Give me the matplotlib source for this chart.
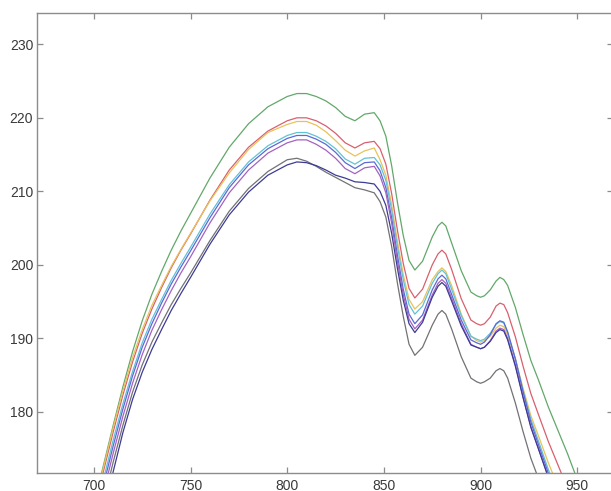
import matplotlib
matplotlib.use('Agg')
import matplotlib.pyplot as plt

plt.rcParams['font.family'] = ['Liberation Sans', 'DejaVu Sans']

# wavelength samples (nm)
wl = [700, 705, 710, 715, 720, 725, 730, 735, 740, 745, 750, 760, 770, 780, 790,
      800, 805, 810, 815, 820, 825, 830, 835, 840, 845, 848, 851, 854, 857, 860,
      863, 866, 870, 875, 878, 880, 882, 885, 890, 895, 898, 900, 902, 905, 908,
      910, 912, 914, 918, 922, 926, 930, 935, 940, 945, 950, 955]

green = [167.4, 172.8, 178.2, 183.4, 188.2, 192.4, 196.0, 199.1, 202.0, 204.6, 207.0,
         211.8, 216.0, 219.2, 221.5, 222.9, 223.3, 223.3, 222.9, 222.3, 221.4, 220.2,
         219.6, 220.5, 220.7, 219.6, 217.5, 213.5, 208.5, 204.0, 200.6, 199.3, 200.5,
         203.8, 205.3, 205.8, 205.3, 203.0, 199.2, 196.3, 195.8, 195.6, 195.8, 196.6, 197.8,
         198.3, 198.0, 197.2, 194.2, 190.5, 187.0, 184.3, 180.7, 177.5, 174.3, 170.8, 167.0]
red = [166.6, 172.0, 177.3, 182.3, 186.8, 190.7, 194.0, 196.9, 199.6, 202.0, 204.2,
       208.8, 212.9, 216.0, 218.2, 219.6, 220.0, 220.0, 219.6, 218.9, 217.9, 216.6,
       215.9, 216.6, 216.8, 215.8, 213.7, 209.7, 204.7, 200.2, 196.8, 195.5, 196.7,
       200.0, 201.5, 202.0, 201.5, 199.4, 195.4, 192.5, 192.0, 191.8, 192.0, 192.9, 194.4,
       194.8, 194.6, 193.5, 190.2, 186.2, 182.5, 179.6, 176.0, 172.8, 169.6, 166.1, 162.3]
yellow = [167.1, 172.5, 177.9, 182.9, 187.4, 191.2, 194.5, 197.2, 199.8, 202.1, 204.3,
          208.7, 212.5, 215.7, 218.0, 219.1, 219.5, 219.5, 219.0, 218.1, 216.9, 215.6,
          214.8, 215.5, 215.9, 214.3, 212.2, 208.2, 203.2, 198.7, 195.3, 194.0, 195.0,
          198.0, 199.1, 199.6, 199.1, 197.2, 193.3, 190.3, 189.7, 189.5, 189.7, 190.3, 191.4,
          191.8, 191.6, 190.5, 187.2, 183.2, 179.5, 176.7, 173.1, 169.9, 166.7, 163.2, 159.4]
cyan = [165.6, 170.9, 176.2, 181.1, 185.5, 189.4, 192.6, 195.3, 197.9, 200.2, 202.4,
        206.9, 210.9, 214.0, 216.2, 217.6, 218.0, 218.0, 217.5, 216.8, 215.8, 214.4,
        213.7, 214.5, 214.6, 213.6, 211.5, 207.5, 202.5, 198.0, 194.6, 193.3, 194.4,
        197.5, 198.8, 199.3, 198.8, 196.7, 193.1, 190.3, 189.9, 189.7, 189.9, 190.7, 191.9,
        192.3, 192.1, 190.8, 187.2, 182.9, 179.0, 176.0, 172.2, 169.0, 165.8, 162.3, 158.5]
blue = [164.8, 170.1, 175.4, 180.4, 184.9, 188.8, 192.0, 194.8, 197.4, 199.7, 201.9,
        206.4, 210.5, 213.6, 215.8, 217.2, 217.6, 217.6, 217.1, 216.4, 215.3, 213.9,
        213.1, 213.9, 214.0, 212.8, 210.5, 206.4, 201.3, 196.7, 193.3, 192.0, 193.2,
        196.6, 198.1, 198.6, 198.1, 196.0, 192.5, 189.8, 189.4, 189.2, 189.5, 190.5, 192.0,
        192.4, 192.2, 190.9, 187.2, 182.7, 178.6, 175.5, 171.7, 168.5, 165.3, 161.8, 158.0]
purple = [163.8, 169.1, 174.4, 179.4, 183.9, 187.8, 191.1, 193.9, 196.5, 198.9, 201.1,
          205.7, 209.8, 212.9, 215.2, 216.6, 217.0, 217.0, 216.4, 215.6, 214.5, 213.1,
          212.4, 213.2, 213.4, 212.1, 209.8, 205.7, 200.5, 196.0, 192.6, 191.3, 192.5,
          195.9, 197.5, 198.0, 197.5, 195.5, 192.0, 189.2, 188.8, 188.6, 188.8, 189.7, 191.0,
          191.4, 191.2, 190.0, 186.4, 182.0, 178.0, 175.0, 171.2, 168.0, 164.8, 161.3, 157.5]
gray = [162.4, 167.8, 173.2, 178.2, 182.7, 186.4, 189.5, 192.1, 194.6, 196.8, 198.9,
        203.3, 207.3, 210.4, 212.7, 214.3, 214.5, 214.1, 213.4, 212.6, 211.9, 211.2,
        210.5, 210.2, 209.8, 208.6, 206.5, 202.5, 197.5, 193.0, 189.2, 187.7, 188.8,
        191.8, 193.3, 193.8, 193.3, 191.3, 187.5, 184.6, 184.1, 183.9, 184.1, 184.6, 185.6,
        185.9, 185.6, 184.6, 181.2, 177.3, 173.7, 170.9, 167.3, 164.0, 161.0, 157.5, 154.0]
navy = [160.9, 166.4, 171.9, 177.2, 181.7, 185.4, 188.5, 191.2, 193.8, 196.1, 198.3,
        202.8, 206.8, 209.9, 212.2, 213.6, 214.0, 213.9, 213.5, 212.9, 212.2, 211.8,
        211.3, 211.2, 211.0, 210.0, 208.1, 204.3, 199.5, 195.2, 192.0, 190.8, 192.2,
        195.6, 197.1, 197.6, 197.1, 195.1, 191.7, 189.1, 188.8, 188.6, 188.8, 189.6, 190.8,
        191.2, 191.0, 189.8, 186.2, 181.9, 177.9, 174.9, 171.1, 167.9, 164.7, 161.2, 157.4]

series = [(green, '#62a86a'), (red, '#d8606e'), (yellow, '#e8c25a'),
          (cyan, '#62c2d4'), (blue, '#5a6ad6'), (purple, '#a462c0'),
          (gray, '#727276'), (navy, '#3c3c96')]

fig = plt.figure(figsize=(6.11, 4.91), dpi=100, facecolor='white')
ax = fig.add_axes([0.060, 0.0367, 0.943, 0.936])

for vals, col in series:
    ax.plot(wl, vals, color=col, lw=0.9)

ax.set_xlim(670.4, 968.4)
ax.set_ylim(171.7, 234.2)
ax.set_xticks([700, 750, 800, 850, 900, 950])
ax.set_yticks([180, 190, 200, 210, 220, 230])

for s in ax.spines.values():
    s.set_color('#8c8c8c')
    s.set_linewidth(1.0)
ax.tick_params(direction='in', top=True, right=True, length=4, width=0.9,
               color='#8c8c8c', labelcolor='#3a3a3a', labelsize=10)
ax.tick_params(axis='x', pad=4)
ax.tick_params(axis='y', pad=2.5)

fig.savefig('out.png', dpi=100)
